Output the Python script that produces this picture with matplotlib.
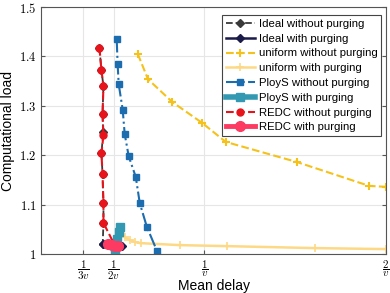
import matplotlib
matplotlib.use("Agg")
import matplotlib.pyplot as plt

plt.rcParams['mathtext.fontset'] = 'cm'
plt.rcParams['font.family'] = ['Liberation Sans', 'DejaVu Sans']

# data (mean delay in units of 1/v, computational load)
ideal_nop_x = [0.422, 0.433, 0.444, 0.439, 0.443, 0.433, 0.439, 0.444, 0.444, 0.44]
ideal_nop_y = [1.417, 1.372, 1.340, 1.283, 1.247, 1.204, 1.162, 1.103, 1.063, 1.020]
ideal_p_x = [0.44, 0.49, 0.545]
ideal_p_y = [1.020, 1.018, 1.016]
unif_nop_x = [0.633, 0.689, 0.822, 0.989, 1.117, 1.511, 1.906, 2.0]
unif_nop_y = [1.405, 1.354, 1.308, 1.265, 1.227, 1.186, 1.138, 1.136]
unif_p_x = [0.56, 0.59, 0.62, 0.65, 0.867, 1.122, 1.606, 2.0]
unif_p_y = [1.034, 1.028, 1.024, 1.022, 1.018, 1.016, 1.012, 1.010]
ploys_nop_x = [0.517, 0.522, 0.528, 0.550, 0.561, 0.583, 0.622, 0.644, 0.683, 0.739]
ploys_nop_y = [1.435, 1.385, 1.344, 1.292, 1.243, 1.198, 1.156, 1.103, 1.055, 1.006]
ploys_p_x = [0.505, 0.51, 0.52, 0.53, 0.535]
ploys_p_y = [1.004, 1.015, 1.030, 1.045, 1.055]
redc_nop_x = [0.422, 0.433, 0.444, 0.439, 0.444, 0.433, 0.439, 0.444, 0.444, 0.506]
redc_nop_y = [1.417, 1.372, 1.340, 1.283, 1.240, 1.204, 1.162, 1.103, 1.063, 1.018]
redc_p_x = [0.47, 0.49, 0.51, 0.525]
redc_p_y = [1.020, 1.018, 1.017, 1.016]

fig = plt.figure(figsize=(3.9, 2.93), dpi=100)
ax = fig.add_axes([0.105, 0.133, 0.885, 0.843])

ax.plot(ideal_nop_x, ideal_nop_y, '--', color='#3a3a3a', marker='D', ms=4, lw=1.3,
        label='Ideal without purging')
ax.plot(ideal_p_x, ideal_p_y, '-', color='#1b1b4a', marker='D', ms=4.5, lw=1.8,
        label='Ideal with purging')
ax.plot(unif_nop_x, unif_nop_y, '--', color='#f5c21b', marker='+', ms=6, mew=1.5, lw=1.5,
        label='uniform without purging')
ax.plot(unif_p_x, unif_p_y, '-', color='#fdd986', marker='+', ms=6, mew=1.2, lw=1.8,
        label='uniform with purging')
ax.plot(ploys_nop_x, ploys_nop_y, '-.', color='#1c6cb0', marker='s', ms=4.5, lw=1.5,
        label='PloyS without purging')
ax.plot(ploys_p_x, ploys_p_y, '-', color='#3399b3', marker='s', ms=5.5, lw=4,
        label='PloyS with purging')
ax.plot(redc_nop_x, redc_nop_y, '--', color='#e8141c', marker='o', ms=5, lw=1.5,
        label='REDC without purging')
ax.plot(redc_p_x, redc_p_y, '-', color='#fd3a62', marker='o', ms=7, lw=3.5,
        label='REDC with purging')

ax.set_xlim(0.1, 2.0)
ax.set_ylim(1.0, 1.5)
ax.set_xticks([1/3, 1/2, 1, 2])
ax.set_xticklabels([r'$\dfrac{1}{3v}$', r'$\dfrac{1}{2v}$', r'$\dfrac{1}{v}$', r'$\dfrac{2}{v}$'],
                   fontsize=8)
ax.set_yticks([1.0, 1.1, 1.2, 1.3, 1.4, 1.5])
ax.set_yticklabels(['$1$', '$1.1$', '$1.2$', '$1.3$', '$1.4$', '$1.5$'], fontsize=9)
ax.tick_params(direction='in', length=3, right=True, top=False, color='#555555', pad=3)
ax.grid(True, color='#e6e6e6', lw=0.8)
for s in ax.spines.values():
    s.set_color('#555555')

ax.set_xlabel('Mean delay', fontsize=10)
ax.xaxis.set_label_coords(0.5, -0.102)
ax.set_ylabel('Computational load', fontsize=10, labelpad=3)

leg = ax.legend(loc='upper right', fontsize=8.2, handlelength=2.6, labelspacing=0.42,
                borderpad=0.35, handletextpad=0.3, fancybox=False, framealpha=1,
                edgecolor='#444444', bbox_to_anchor=(0.986, 0.968), borderaxespad=0)
leg.get_frame().set_linewidth(0.8)

fig.savefig('out.png', dpi=100)
